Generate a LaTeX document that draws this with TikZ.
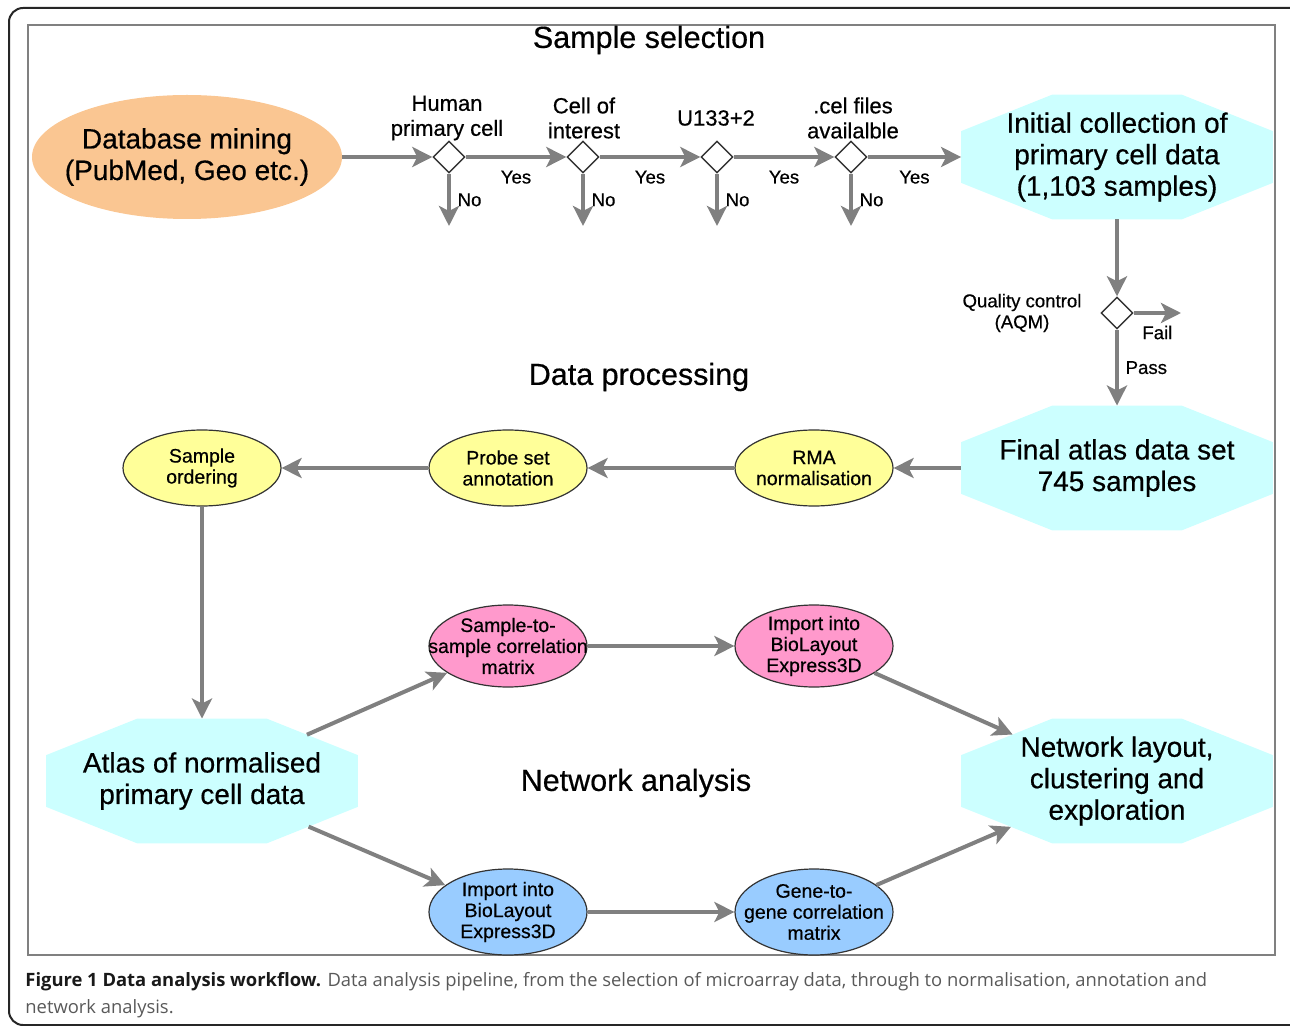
\documentclass[tikz,border=0pt]{standalone}
\usepackage{fontspec}
\setmainfont[FakeBold=0.5]{Liberation Sans}
\newfontfamily\capfont{Open Sans}
\usetikzlibrary{shapes.geometric,arrows.meta}

\definecolor{arrowgray}{RGB}{128,128,128}
\definecolor{minepeach}{RGB}{250,198,146}
\definecolor{atlascyan}{RGB}{204,255,255}
\definecolor{procyellow}{RGB}{255,255,153}
\definecolor{netpink}{RGB}{255,153,204}
\definecolor{netblue}{RGB}{153,204,255}

\begin{document}
\begin{tikzpicture}[x=0.5pt, y=-0.5pt,
    % Define styles
    octa/.style={regular polygon, regular polygon sides=8, minimum size=67.6pt, inner sep=0pt, outer sep=0pt, fill=atlascyan, xscale=2.496, transform shape},
    octatext/.style={font=\fontsize{14}{15.75}\selectfont, align=center},
    oval/.style={ellipse, draw=black!80, line width=0.6pt, minimum width=79pt, minimum height=38pt, inner sep=0pt},
    ovaltext/.style={font=\fontsize{9.75}{10.5}\selectfont, align=center},
    decision/.style={diamond, draw=black!80, fill=white, line width=0.7pt, minimum width=16pt, minimum height=16pt, inner sep=0pt},
    flow/.style={draw=arrowgray, line width=2pt, -{Stealth[length=10pt, width=10pt, inset=2.5pt]}},
    smalllbl/.style={font=\fontsize{9.3}{10.5}\selectfont},
    critlbl/.style={font=\fontsize{11}{12.5}\selectfont, align=center},
    sectitle/.style={font=\fontsize{15.25}{17}\selectfont}
]
\useasboundingbox (0,0) rectangle (1290,1026);

% Frames
\draw[black!85, line width=1pt, rounded corners=7pt] (9,8) rectangle (1320,1025);
\draw[gray, line width=0.6pt] (28,25) rectangle (1275,955);

% Section titles
\node[sectitle] (title_sel) at (649,40) {Sample selection};
\node[sectitle] (title_proc) at (639,377) {Data processing};
\node[sectitle] (title_net) at (636,783) {Network analysis};

% Sample selection
\node[ellipse, fill=minepeach, minimum width=155pt, minimum height=62pt, inner sep=0pt,
      label={[octatext]center:{Database mining\\(PubMed, Geo etc.)}}] (dbmine) at (187,157) {};

\node[decision] (crit_human) at (449,157) {};
\node[decision] (crit_cell) at (583,157) {};
\node[decision] (crit_chip) at (717,157) {};
\node[decision] (crit_cel) at (851,157) {};

\node[critlbl] (lbl_human) at (447,118) {Human\\primary cell};
\node[critlbl] (lbl_cell) at (584,118) {Cell of\\interest};
\node[critlbl] (lbl_chip) at (716,118) {U133+2};
\node[critlbl] (lbl_cel) at (853,118) {.cel files\\availalble};

\coordinate (no_human) at (449,226);
\coordinate (no_cell) at (583,226);
\coordinate (no_chip) at (717,226);
\coordinate (no_cel) at (851,226);

\node[octa] (initcoll) at (1117,157) {};
\node[octatext] (initcoll_text) at (1117,157) {Initial collection of\\primary cell data\\(1,103 samples)};

% Quality control
\node[decision] (crit_qc) at (1117,313) {};
\node[smalllbl, align=center] (lbl_qc) at (1022,313) {Quality control\\(AQM)};
\coordinate (fail_qc) at (1181,313);

% Data processing
\node[octa] (finalatlas) at (1117,468) {};
\node[octatext] (finalatlas_text) at (1117,468) {Final atlas data set\\745 samples};
\node[oval, fill=procyellow, label={[ovaltext]center:{RMA\\normalisation}}] (rma) at (814,468) {};
\node[oval, fill=procyellow, label={[ovaltext]center:{Probe set\\annotation}}] (probe) at (508,468) {};
\node[oval, fill=procyellow, label={[ovaltext]center:{Sample\\ordering}}] (sampord) at (202,468) {};

% Network analysis
\node[octa] (atlas) at (202,781) {};
\node[octatext] (atlas_text) at (202,781) {Atlas of normalised\\primary cell data};
\node[oval, fill=netpink, minimum height=41pt, label={[ovaltext]center:{Sample-to-\\sample correlation\\matrix}}] (s2s) at (508,646) {};
\node[oval, fill=netpink, minimum height=41pt, label={[ovaltext]center:{Import into\\BioLayout\\Express3D}}] (import_s) at (814,646) {};
\node[oval, fill=netblue, minimum height=43pt, label={[ovaltext]center:{Import into\\BioLayout\\Express3D}}] (import_g) at (508,912) {};
\node[oval, fill=netblue, minimum height=43pt, label={[ovaltext]center:{Gene-to-\\gene correlation\\matrix}}] (g2g) at (814,912) {};
\node[octa] (netlayout) at (1117,781) {};
\node[octatext] (netlayout_text) at (1117,781) {Network layout,\\clustering and\\exploration};

% Connectors - selection
\draw[flow] (dbmine) -- (crit_human);
\draw[flow] (crit_human) -- node[smalllbl, below=2.5pt] (yes_human) {Yes} (crit_cell);
\draw[flow] (crit_cell) -- node[smalllbl, below=2.5pt] (yes_cell) {Yes} (crit_chip);
\draw[flow] (crit_chip) -- node[smalllbl, below=2.5pt] (yes_chip) {Yes} (crit_cel);
\draw[flow] (crit_cel) -- node[smalllbl, below=2.5pt] (yes_cel) {Yes} (initcoll);
\draw[flow] (crit_human) -- node[smalllbl, right] (no_lbl_human) {No} (no_human);
\draw[flow] (crit_cell) -- node[smalllbl, right] (no_lbl_cell) {No} (no_cell);
\draw[flow] (crit_chip) -- node[smalllbl, right] (no_lbl_chip) {No} (no_chip);
\draw[flow] (crit_cel) -- node[smalllbl, right] (no_lbl_cel) {No} (no_cel);

% Connectors - quality control
\draw[flow] (initcoll) -- (crit_qc);
\draw[flow] (crit_qc) -- node[smalllbl, below=2pt] (lbl_fail) {Fail} (fail_qc);
\draw[flow] (crit_qc) -- node[smalllbl, right] (lbl_pass) {Pass} (finalatlas);

% Connectors - processing
\draw[flow] (finalatlas) -- (rma);
\draw[flow] (rma) -- (probe);
\draw[flow] (probe) -- (sampord);
\draw[flow] (sampord) -- (atlas);

% Connectors - network
\draw[flow] (atlas) -- (s2s);
\draw[flow] (s2s) -- (import_s);
\draw[flow] (import_s) -- (netlayout);
\draw[flow] (atlas) -- (import_g);
\draw[flow] (import_g) -- (g2g);
\draw[flow] (g2g) -- (netlayout);

% Caption
\node[anchor=north west, align=left, inner sep=0pt, text=black!65,
      font=\capfont\fontsize{9.2}{13.5}\selectfont] (caption) at (25,972)
  {\textbf{\color{black!90}Figure 1 Data analysis workflow.} Data analysis pipeline, from the selection of microarray data, through to normalisation, annotation and\\network analysis.};

\end{tikzpicture}
\end{document}
